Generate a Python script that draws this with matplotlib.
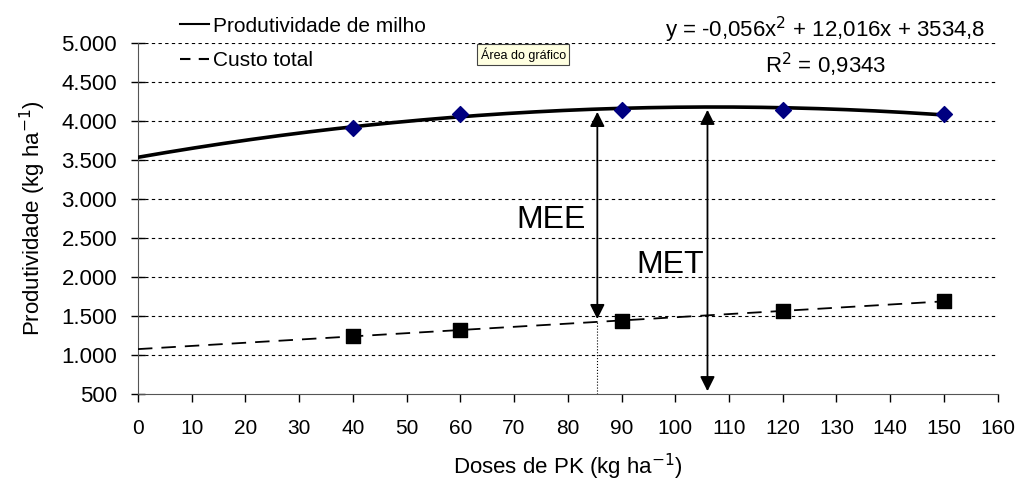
import numpy as np
import matplotlib
matplotlib.use('Agg')
import matplotlib.pyplot as plt
from matplotlib.lines import Line2D

plt.rcParams['font.family'] = ['Liberation Sans', 'DejaVu Sans']

# dados
doses = [40, 60, 90, 120, 150]
produtividade = [3910, 4090, 4140, 4140, 4090]
custo = [1243, 1320, 1436, 1564, 1692]
coef_prod = [-0.056, 12.016, 3534.8]   # equação mostrada no gráfico
dose_mee = 85.5
dose_met = 106.0
xticks = list(range(0, 161, 10))
yticks = list(range(500, 5001, 500))
ytick_labels = ['500', '1.000', '1.500', '2.000', '2.500', '3.000', '3.500', '4.000', '4.500', '5.000']

fig = plt.figure(figsize=(10.19, 4.87), dpi=100)
ax = fig.add_axes([0.1354, 0.191, 0.8436, 0.7207])

# curvas de tendência
xx = np.linspace(0, 150, 200)
ax.plot(xx, np.polyval(coef_prod, xx), color='black', lw=2.6, zorder=3)
coef_custo = np.polyfit(doses, custo, 1)
ax.plot(xx, np.polyval(coef_custo, xx), color='black', lw=1.3, dashes=(8, 5), zorder=3)

ax.scatter(doses, produtividade, marker='D', s=65, color='#000080', zorder=4)
ax.scatter(doses, custo, marker='s', s=110, color='black', zorder=4)

# setas MEE e MET
y_mee_top = np.polyval(coef_prod, dose_mee)
y_mee_bot = np.polyval(coef_custo, dose_mee)
ax.annotate('', xy=(dose_mee, y_mee_bot), xytext=(dose_mee, y_mee_top),
            arrowprops=dict(arrowstyle='<|-|>', color='black', lw=1.3, mutation_scale=22))
ax.plot([dose_mee, dose_mee], [500, y_mee_bot], color='black', lw=0.8, ls=':')
y_met_top = np.polyval(coef_prod, dose_met)
ax.annotate('', xy=(dose_met, 500), xytext=(dose_met, y_met_top),
            arrowprops=dict(arrowstyle='<|-|>', color='black', lw=1.3, mutation_scale=22))
ax.text(76.8, 2730, 'MEE', fontsize=23, ha='center', va='center')
ax.text(99, 2150, 'MET', fontsize=23, ha='center', va='center')

ax.set_xlim(0, 160)
ax.set_ylim(500, 5000)
ax.set_xticks(xticks)
ax.set_yticks(yticks)
ax.set_yticklabels(ytick_labels)
ax.tick_params(axis='y', direction='inout', length=10, width=1, labelsize=16, pad=10)
ax.tick_params(axis='x', direction='out', length=6, width=1, labelsize=15, pad=12)
for y in yticks[1:]:
    ax.axhline(y, color='black', lw=0.8, ls=(0, (3, 3)), zorder=1)
for s in ['top', 'right']:
    ax.spines[s].set_visible(False)
ax.spines['left'].set_color('#555555')
ax.spines['bottom'].set_color('#555555')

ax.set_xlabel('Doses de PK (kg ha$^{-1}$)', fontsize=16, labelpad=10)
ax.set_ylabel('Produtividade (kg ha$^{-1}$)', fontsize=16, labelpad=10)

handles = [Line2D([], [], color='black', lw=1.5),
           Line2D([], [], color='black', lw=1.5, dashes=(5, 4))]
ax.legend(handles, ['Produtividade de milho', 'Custo total'], loc='upper left',
          bbox_to_anchor=(0.049, 1.075), frameon=False, fontsize=15,
          borderpad=0, borderaxespad=0,
          handlelength=1.4, handletextpad=0.2, labelspacing=0.75)

ax.text(0.80, 1.037, 'y = -0,056x$^2$ + 12,016x + 3534,8', transform=ax.transAxes,
        fontsize=16, ha='center', va='center')
ax.text(0.80, 0.937, 'R$^2$ = 0,9343', transform=ax.transAxes,
        fontsize=16, ha='center', va='center')
ax.text(0.448, 0.967, 'Área do gráfico', transform=ax.transAxes, fontsize=9,
        ha='center', va='center',
        bbox=dict(boxstyle='square,pad=0.25', fc='#ffffe1', ec='#444444', lw=0.8))

fig.savefig('out.png', dpi=100)
